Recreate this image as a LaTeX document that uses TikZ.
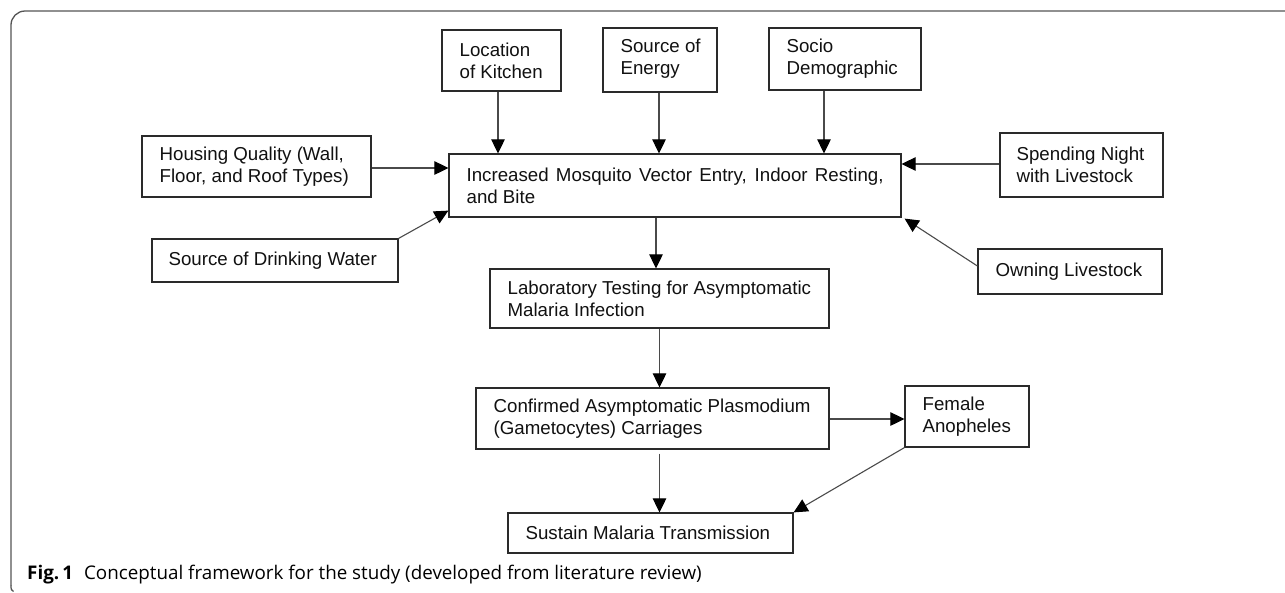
\documentclass[tikz,border=0pt]{standalone}
\usepackage{fontspec}
\setmainfont{Liberation Sans}
\newfontfamily\capfont{Open Sans}
\usetikzlibrary{arrows.meta,calc}
\definecolor{boxc}{HTML}{2A2A2A}
\definecolor{linec}{HTML}{4A4A4A}
\definecolor{framec}{HTML}{555555}
\definecolor{txtc}{HTML}{111111}
\begin{document}
\begin{tikzpicture}[x=1pt,y=-1pt,
  box/.style={draw=boxc, line width=1.2pt, fill=white, inner sep=0pt},
  txt/.style={anchor=west, align=left, inner sep=0pt, text=txtc,
    font=\fontsize{18.7}{22}\selectfont},
  arr/.style={draw=linec, line width=1.1pt, -{Triangle[length=14pt,width=13.5pt,color=black,fill=black]}},
  lin/.style={draw=linec, line width=1.1pt}]
\useasboundingbox (0,0) rectangle (1285,592);
% frame
\draw[framec, line width=1.3pt, rounded corners=14pt] (1285,11) -- (11,11) -- (11,586);
\draw[framec, line width=1.3pt] (11,585.5) .. controls (11,589.5) and (11.5,590.5) .. (13.5,591.5);
% boxes
\node[box, minimum width=119pt, minimum height=61pt] (kitchen) at (501.5,60.5) {};
\node[txt] at ([xshift=18pt]kitchen.west) {Location\\of Kitchen};
\node[box, minimum width=114pt, minimum height=64pt] (energy) at (660,60) {};
\node[txt] at ([xshift=18pt,yshift=1pt]energy.west) {Source of\\Energy};
\node[box, minimum width=152pt, minimum height=62pt] (socio) at (845,59) {};
\node[txt] at ([xshift=18pt]socio.west) {Socio\\Demographic};
\node[box, minimum width=229pt, minimum height=61pt] (housing) at (256.5,166.5) {};
\node[txt] at ([xshift=18pt]housing.west) {Housing Quality (Wall,\\Floor, and Roof Types)};
\node[box, minimum width=246pt, minimum height=43pt] (water) at (275,260.5) {};
\node[txt] at ([xshift=17pt]water.west) {Source of Drinking Water};
\node[box, minimum width=452pt, minimum height=63pt] (main) at (675,185.5) {};
\node[txt] at ([xshift=18pt]main.west) {\makebox[417pt][s]{Increased Mosquito Vector Entry, Indoor Resting,}\\and Bite};
\node[box, minimum width=163pt, minimum height=64pt] (night) at (1081.5,165) {};
\node[txt] at ([xshift=17pt]night.west) {Spending Night\\with Livestock};
\node[box, minimum width=184pt, minimum height=45pt] (owning) at (1070,271.5) {};
\node[txt] at ([xshift=18pt]owning.west) {Owning Livestock};
\node[box, minimum width=339pt, minimum height=59pt] (lab) at (659.5,298.5) {};
\node[txt] at ([xshift=18pt]lab.west) {Laboratory Testing for Asymptomatic\\Malaria Infection};
\node[box, minimum width=353pt, minimum height=61pt] (conf) at (652.5,418.5) {};
\node[txt] at ([xshift=18pt]conf.west) {Confirmed Asymptomatic Plasmodium\\(Gametocytes) Carriages};
\node[box, minimum width=124pt, minimum height=61pt] (female) at (967,416.5) {};
\node[txt] at ([xshift=18pt]female.west) {Female\\Anopheles};
\node[box, minimum width=285pt, minimum height=40pt] (sustain) at (650.5,533) {};
\node[txt] at ([xshift=18pt]sustain.west) {Sustain Malaria Transmission};
% connectors
\draw[arr] ([xshift=-3.5pt]kitchen.south) -- ([xshift=-3.5pt]kitchen.south |- main.north);
\draw[arr] ([xshift=-1pt]energy.south) -- ([xshift=-1pt]energy.south |- main.north);
\draw[arr] ([xshift=-21pt]socio.south) -- ([xshift=-21pt]socio.south |- main.north);
\draw[arr] ([yshift=-1.5pt]housing.east) -- ([yshift=-1.5pt]housing.east -| main.west);
\draw[arr] (water.north east) -- ([yshift=7pt]main.south west);
\draw[arr] ([yshift=1pt]night.west) -- ([yshift=1pt]night.west -| main.east);
\draw[arr] ([yshift=5.5pt]owning.west) -- ([xshift=3pt,yshift=-1pt]main.south east);
\draw[arr] ([xshift=-3.5pt]lab.north |- main.south) -- ([xshift=-3.5pt]lab.north);
\draw[arr] (lab.south) -- (lab.south |- conf.north);
\draw[arr] ([yshift=-0.5pt]conf.east) -- ([yshift=-0.5pt]conf.east -| female.west);
\draw[arr] ([yshift=-4pt]lab.south |- conf.south) -- (lab.south |- sustain.north);
\draw[arr] (female.south west) -- (sustain.north east);
% caption
\node[anchor=base west, inner sep=0pt, font=\capfont\fontsize{18.8}{22}\selectfont, text=black] (cap) at (27,579)
  {\textbf{Fig.\,1}\hspace{11pt}Conceptual framework for the study (developed from literature review)};
\end{tikzpicture}
\end{document}
